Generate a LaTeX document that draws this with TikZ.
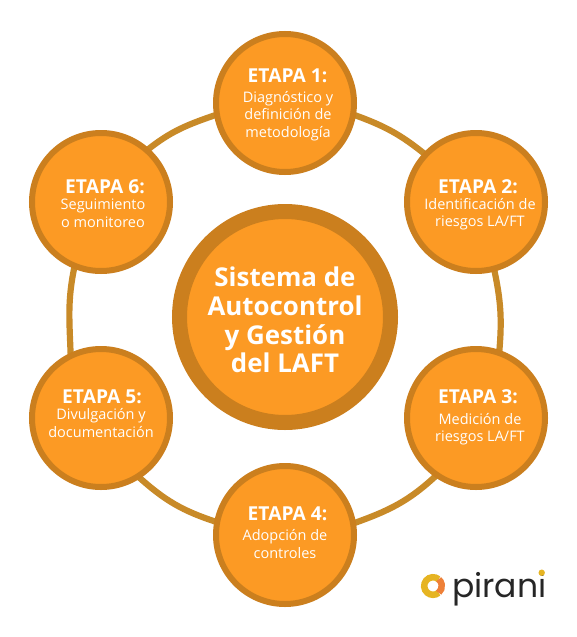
\documentclass[tikz,border=0pt]{standalone}
\usepackage{fontspec}
\usetikzlibrary{backgrounds}
\setmainfont{Open Sans}
\newfontfamily\logofont{Poppins}
\definecolor{fillor}{HTML}{FC9A24}
\definecolor{rimor}{HTML}{CB7F1E}
\definecolor{ringor}{HTML}{C88A28}
\definecolor{logoy}{HTML}{E6B422}
\definecolor{logoo}{HTML}{EE8038}
\tikzset{
  etapa/.style={circle,draw=rimor,line width=6pt,fill=fillor,minimum size=138pt,inner sep=0pt},
  centro/.style={circle,draw=rimor,line width=15pt,fill=fillor,minimum size=211pt,inner sep=0pt},
  centrotxt/.style={inner sep=0pt,text=white,align=center,font=\fontsize{25.9pt}{28.6pt}\selectfont\bfseries},
  enlace/.style={draw=ringor,line width=6.2pt,shorten >=-3pt,shorten <=-3pt},
  titulo/.style={inner sep=0pt,text=white,font=\fontsize{19.2pt}{20pt}\selectfont\bfseries},
  cuerpo/.style={inner sep=0pt,text=white,align=center,font=\fontsize{14.5pt}{17.6pt}\selectfont}
}
\begin{document}
\begin{tikzpicture}[x=1pt,y=-1pt]
\useasboundingbox (0,0) rectangle (577,637);
\node[centro] (c) at (285,317) {};
\node[centrotxt] (ct) at (285,320) {Sistema de\\Autocontrol\\y Gestión\\del LAFT};
\node[etapa] (e1) at (285,103) {};
\node[etapa] (e2) at (476,202) {};
\node[etapa] (e3) at (476,418) {};
\node[etapa] (e4) at (285,535) {};
\node[etapa] (e5) at (101,418) {};
\node[etapa] (e6) at (101,202) {};
\node[titulo] (t1) at (287.5,76) {ETAPA 1:};
\node[cuerpo] (b1) at (288,116) {Diagnóstico y\\definición de\\metodología};
\node[titulo] (t2) at (478,187) {ETAPA 2:};
\node[cuerpo] (b2) at (480,214) {Identificación de\\riesgos LA/FT};
\node[titulo] (t3) at (478,397) {ETAPA 3:};
\node[cuerpo] (b3) at (480,429) {Medición de\\riesgos LA/FT};
\node[titulo] (t4) at (287.5,514) {ETAPA 4:};
\node[cuerpo] (b4) at (285,544) {Adopción de\\controles};
\node[titulo] (t5) at (102,397) {ETAPA 5:};
\node[cuerpo] (b5) at (101,423) {Divulgación y\\documentación};
\node[titulo] (t6) at (105,187) {ETAPA 6:};
\node[cuerpo] (b6) at (103,213) {Seguimiento\\o monitoreo};
\begin{scope}[on background layer]
\fill[white] (0,0) rectangle (577,637);
\draw[enlace] (e1.-10) to[out=-20,in=141] (e2.137);
\draw[enlace] (e2.285.7) to[out=-78,in=85] (e3.71.8);
\draw[enlace] (e3.235) to[out=223,in=19.6] (e4.10);
\draw[enlace] (e4.169) to[out=162,in=-42] (e5.-57);
\draw[enlace] (e5.115.5) to[out=92,in=258] (e6.248);
\draw[enlace] (e6.48) to[out=38.6,in=199] (e1.190);
\end{scope}
% logo
\coordinate (lc) at (433,586);
\draw[line width=6.5pt,color=logoy] (lc) ++(50:8.8pt) arc[start angle=50,end angle=310,radius=8.8pt];
\draw[line width=6.5pt,color=logoo] (lc) ++(-50:8.8pt) arc[start angle=-50,end angle=50,radius=8.8pt];
\node[font=\logofont\fontsize{33pt}{33pt}\selectfont,text=black!85,anchor=base west,inner sep=0pt] (logo) at (452,597) {pirani};
\fill[logoy] (541.7,572.7) circle (3.2pt);
\end{tikzpicture}
\end{document}
